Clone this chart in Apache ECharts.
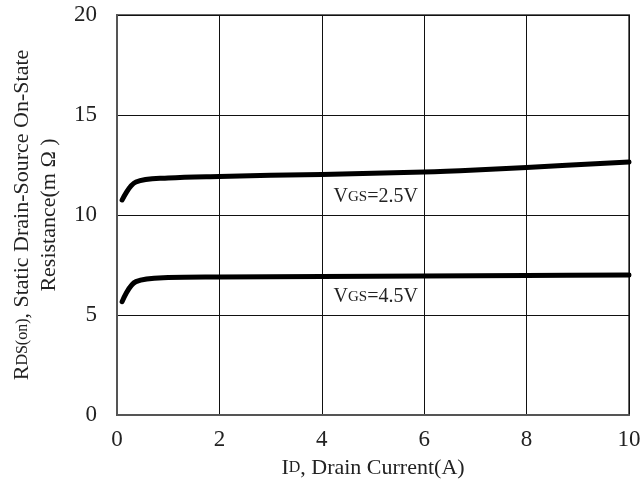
<!DOCTYPE html>
<html>
<head>
<meta charset="utf-8">
<script src="https://cdn.jsdelivr.net/npm/echarts@6/dist/echarts.min.js"></script>
<style>html,body{margin:0;padding:0;background:#fff;}#c{width:641px;height:492px;}</style>
</head>
<body>
<div id="c"></div>
<script>
// Data
var xTicks = [0, 2, 4, 6, 8, 10];
var yTicks = [0, 5, 10, 15, 20];
var vgs25 = [[0.1, 10.75], [0.37, 11.65], [1, 11.85], [2, 11.93], [4, 12.03], [6, 12.15], [7, 12.25], [8, 12.38], [10, 12.65]];
var vgs45 = [[0.1, 5.67], [0.37, 6.67], [1, 6.87], [2, 6.9], [4, 6.93], [6, 6.95], [8, 6.98], [10, 7.0]];
var seriesLabels = ['VGS=2.5V', 'VGS=4.5V'];
var labelAnchors = [[4.22, 10.9], [4.22, 5.92]];

var FONT = '"Liberation Serif", "DejaVu Serif", serif';
var TXT = '#222';

function richLabel(txt) {
  return '{a|V}{b|GS}{a|' + txt.slice(3) + '}';
}

var chart = echarts.init(document.getElementById('c'), null, {renderer: 'canvas'});

function mkSeries(data) {
  return {
    type: 'line',
    data: data,
    smooth: 0.35,
    showSymbol: false,
    symbol: 'none',
    lineStyle: {color: '#000', width: 5, cap: 'round', join: 'round'},
    z: 5
  };
}

var labelData = labelAnchors.map(function (p, i) {
  return {value: p, name: seriesLabels[i]};
});

chart.setOption({
  animation: false,
  backgroundColor: '#fff',
  grid: {left: 117, right: 12, top: 15, bottom: 77, containLabel: false, outerBoundsMode: 'none',
         show: true, borderColor: '#666', borderWidth: 2, backgroundColor: 'transparent'},
  xAxis: {
    type: 'value',
    min: xTicks[0],
    max: xTicks[xTicks.length - 1],
    interval: 2,
    axisLine: {show: true, lineStyle: {color: '#555', width: 2}},
    axisTick: {show: false},
    axisLabel: {fontFamily: FONT, fontSize: 23, color: TXT, margin: 13},
    splitLine: {show: true, lineStyle: {color: '#111', width: 1}},
    name: '{a|I}{b|D}{a|, Drain Current(A)}',
    nameLocation: 'middle',
    nameGap: 42,
    nameTextStyle: {
      rich: {
        a: {fontFamily: FONT, fontSize: 22, color: TXT},
        b: {fontFamily: FONT, fontSize: 16, color: TXT}
      }
    }
  },
  yAxis: {
    type: 'value',
    min: yTicks[0],
    max: yTicks[yTicks.length - 1],
    interval: 5,
    axisLine: {show: true, lineStyle: {color: '#555', width: 2}},
    axisTick: {show: false},
    axisLabel: {fontFamily: FONT, fontSize: 23, color: TXT, margin: 20},
    splitLine: {show: true, lineStyle: {color: '#111', width: 1}},
    name: '{a|R}{b|DS(on)}{a|, Static Drain-Source On-State}\n{a|Resistance(m Ω )}',
    nameLocation: 'middle',
    nameRotate: 90,
    nameGap: 52,
    nameTextStyle: {
      align: 'center',
      lineHeight: 27,
      rich: {
        a: {fontFamily: FONT, fontSize: 22, color: TXT, lineHeight: 27},
        b: {fontFamily: FONT, fontSize: 16, color: TXT, lineHeight: 27}
      }
    }
  },
  series: [
    mkSeries(vgs25),
    mkSeries(vgs45),
    {
      type: 'scatter',
      data: labelData,
      symbolSize: 1,
      itemStyle: {color: 'rgba(0,0,0,0)'},
      silent: true,
      z: 6,
      label: {
        show: true,
        position: 'right',
        distance: 0,
        color: TXT,
        opacity: 1,
        textBorderWidth: 0,
        formatter: function (p) { return richLabel(p.name); },
        rich: {
          a: {fontFamily: FONT, fontSize: 20, color: TXT, textBorderWidth: 0},
          b: {fontFamily: FONT, fontSize: 15, color: TXT, textBorderWidth: 0}
        }
      }
    }
  ]
});
</script>
</body>
</html>
